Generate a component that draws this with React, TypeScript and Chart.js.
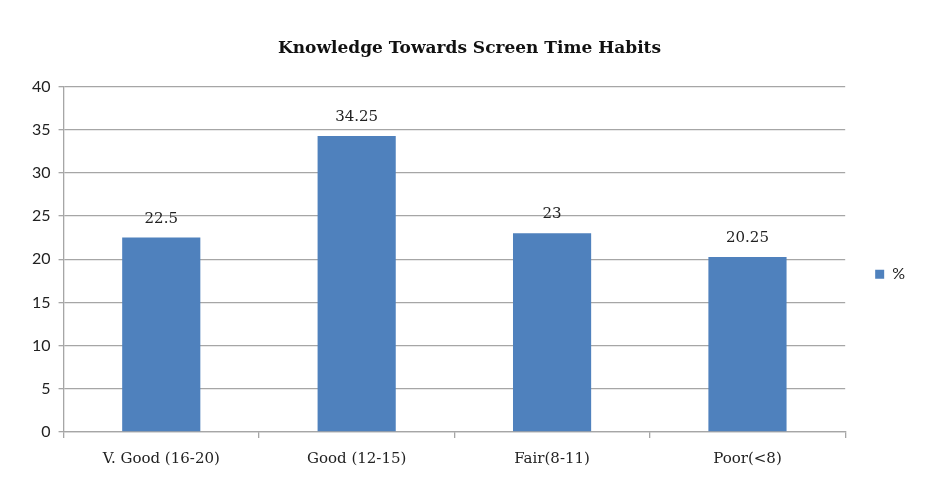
import { useEffect, useRef } from "react"
import { Chart, registerables } from "chart.js"

Chart.register(...registerables)

const categories = ["V. Good (16-20)", "Good (12-15)", "Fair(8-11)", "Poor(<8)"]
const percentValues = [22.5, 34.25, 23, 20.25]
const seriesLabel = "%"
const chartTitle = "Knowledge Towards Screen Time Habits"

const serif = "'DejaVu Serif', serif"
const sans = "Lato, 'Liberation Sans', sans-serif"

// Value labels drawn above each bar
const barValueLabels = {
  id: "barValueLabels",
  afterDatasetsDraw(chart: Chart) {
    const ctx = chart.ctx
    ctx.save()
    ctx.font = `15px ${serif}`
    ctx.fillStyle = "#222"
    ctx.textAlign = "center"
    ctx.textBaseline = "alphabetic"
    chart.data.datasets.forEach((ds, di) => {
      chart.getDatasetMeta(di).data.forEach((bar, i) => {
        ctx.fillText(String(ds.data[i]), bar.x, bar.y - 15)
      })
    })
    ctx.restore()
  },
}

export default function App() {
  const chartRef = useRef<HTMLCanvasElement>(null)
  const chartInstance = useRef<Chart | null>(null)

  useEffect(() => {
    document.body.style.margin = "0"
    if (!chartRef.current) return
    if (chartInstance.current) chartInstance.current.destroy()
    const ctx = chartRef.current.getContext("2d")
    if (!ctx) return

    chartInstance.current = new Chart(ctx, {
      type: "bar",
      data: {
        labels: categories,
        datasets: [
          {
            label: seriesLabel,
            data: percentValues,
            backgroundColor: "#4F81BD",
            barPercentage: 0.4,
            categoryPercentage: 1,
          },
        ],
      },
      plugins: [barValueLabels],
      options: {
        responsive: true,
        maintainAspectRatio: false,
        animation: false,
        layout: { padding: { left: 24, right: 15, top: 38, bottom: 3 } },
        scales: {
          y: {
            min: 0,
            max: 40,
            ticks: { stepSize: 5, color: "#222", font: { family: sans, size: 16 }, padding: 8 },
            grid: { color: "#a6a6a6", tickLength: 5, lineWidth: 1.3 },
            border: { color: "#a6a6a6", width: 1.3 },
          },
          x: {
            ticks: { color: "#222", font: { family: serif, size: 15 }, padding: 12 },
            grid: { drawOnChartArea: false, color: "#a6a6a6", tickLength: 6, lineWidth: 1.3 },
            border: { color: "#a6a6a6", width: 1.3 },
          },
        },
        plugins: {
          title: {
            display: true,
            text: chartTitle,
            color: "#111",
            font: { family: serif, size: 17, weight: "bold" },
            padding: { top: 0, bottom: 28 },
          },
          legend: {
            position: "right",
            title: { display: true, text: " ", font: { size: 12 }, padding: 8 },
            labels: {
              boxWidth: 9,
              boxHeight: 9,
              color: "#222",
              font: { family: sans, size: 16 },
              padding: 30,
            },
          },
          tooltip: { enabled: false },
        },
      },
    })

    return () => {
      if (chartInstance.current) {
        chartInstance.current.destroy()
        chartInstance.current = null
      }
    }
  }, [])

  return (
    <div style={{ position: "relative", width: 930, height: 483, background: "#fff" }}>
      <canvas ref={chartRef} />
    </div>
  )
}
